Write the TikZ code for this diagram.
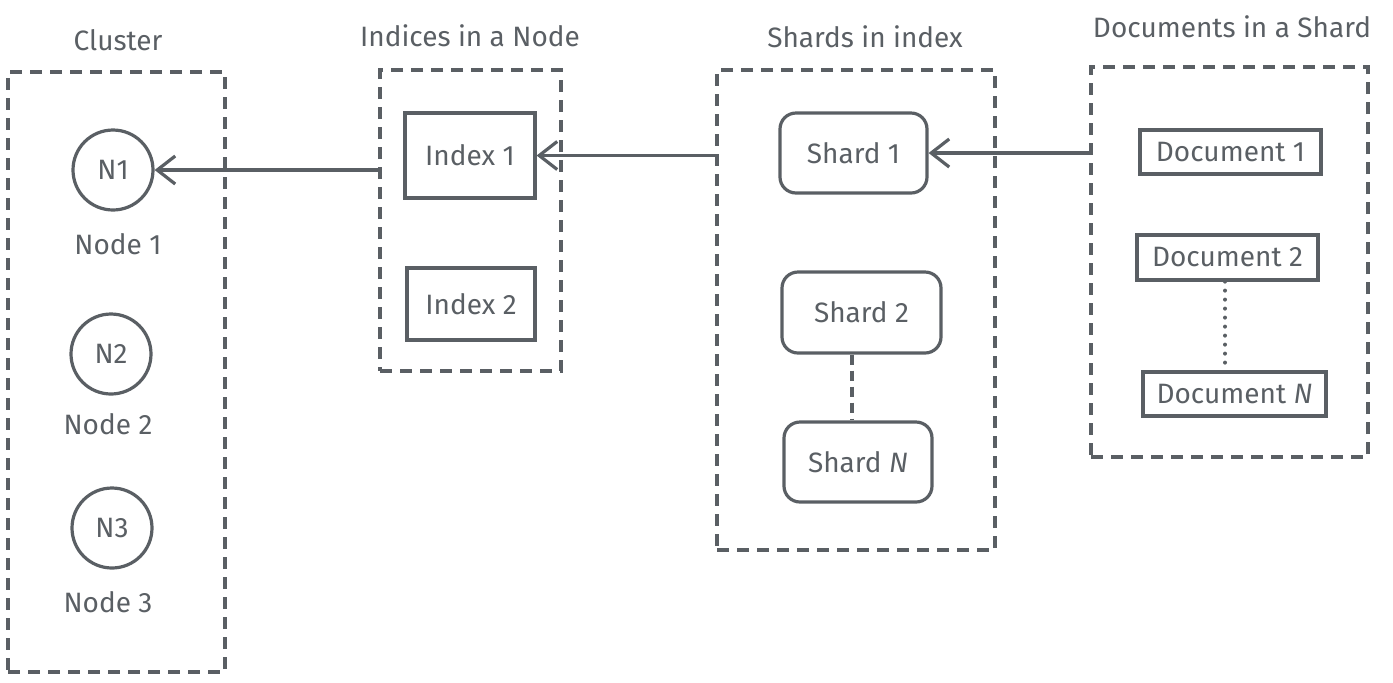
\documentclass[tikz,border=0pt]{standalone}
\usepackage{fontspec}
\setmainfont{Fira Sans}
\usetikzlibrary{arrows.meta}
\definecolor{ink}{HTML}{5A5F64}
\tikzset{
  every node/.style={font=\fontsize{14}{16}\selectfont, text=ink},
  group/.style={draw=ink, line width=1.7pt, dash pattern=on 6pt off 4pt, minimum width=#1},
  item/.style={draw=ink, line width=1.6pt, inner sep=0pt},
  ritem/.style={item, rounded corners=8pt},
  circ/.style={item, circle, minimum size=40pt},
  title/.style={inner sep=0pt},
  link/.style={draw=ink, line width=1.6pt, -{Straight Barb[length=9pt,width=14pt,line width=1.6pt]}},
}
\begin{document}
\begin{tikzpicture}[x=0.5pt,y=-0.5pt]
\useasboundingbox (0,0) rectangle (1393,682);
% containers
\node[group=108.5pt, minimum height=300pt] (cluster) at (116.5,372) {};
\node[group=90.5pt, minimum height=150.5pt] (idx) at (470.5,220.5) {};
\node[group=139pt, minimum height=240pt] (shards) at (856,310) {};
\node[group=138.5pt, minimum height=195pt] (docs) at (1229.5,262) {};
% titles
\node[title] (tcluster) at (118,40) {Cluster};
\node[title] (tidx) at (470,36) {Indices in a Node};
\node[title] (tshards) at (865,37) {Shards in index};
\node[title] (tdocs) at (1232,27) {Documents in a Shard};
% cluster nodes
\node[circ] (n1) at (113,170) {N1};
\node[circ] (n2) at (111,354) {N2};
\node[circ] (n3) at (112,528) {N3};
\node[title] (l1) at (118,244) {Node 1};
\node[title] (l2) at (108,424) {Node 2};
\node[title] (l3) at (108,602) {Node 3};
% indices
\node[item, minimum width=65pt, minimum height=42.5pt] (i1) at (470,155.5) {Index 1};
\node[item, minimum width=64pt, minimum height=36pt] (i2) at (471,304) {Index 2};
% shards
\node[ritem, minimum width=73.5pt, minimum height=40pt] (s1) at (853.5,153) {Shard 1};
\node[ritem, minimum width=79.5pt, minimum height=40.5pt] (s2) at (861.5,312.5) {Shard 2};
\node[ritem, minimum width=74pt, minimum height=40pt] (sn) at (858,462) {Shard \textit{N}};
% documents
\node[item, minimum width=90.5pt, minimum height=22pt] (d1) at (1230.5,152) {Document 1};
\node[item, minimum width=90.5pt, minimum height=22.5pt] (d2) at (1227.5,257.5) {Document 2};
\node[item, minimum width=91.5pt, minimum height=22pt] (dn) at (1234.5,394) {Document \textit{N}};
% connectors
\draw[link] (idx.west |- n1.east) -- (n1.east);
\draw[link] (shards.west |- i1.east) -- (i1.east);
\draw[link] (docs.west |- s1.east) -- (s1.east);
\draw[draw=ink, line width=1.6pt, dash pattern=on 5pt off 3pt] (s2.south -| 852,0) -- (sn.north -| 852,0);
\draw[draw=ink, line width=2pt, line cap=round, dash pattern=on 0pt off 4.5pt] (d2.south -| 1225,0) -- (dn.north -| 1225,0);
\end{tikzpicture}
\end{document}
